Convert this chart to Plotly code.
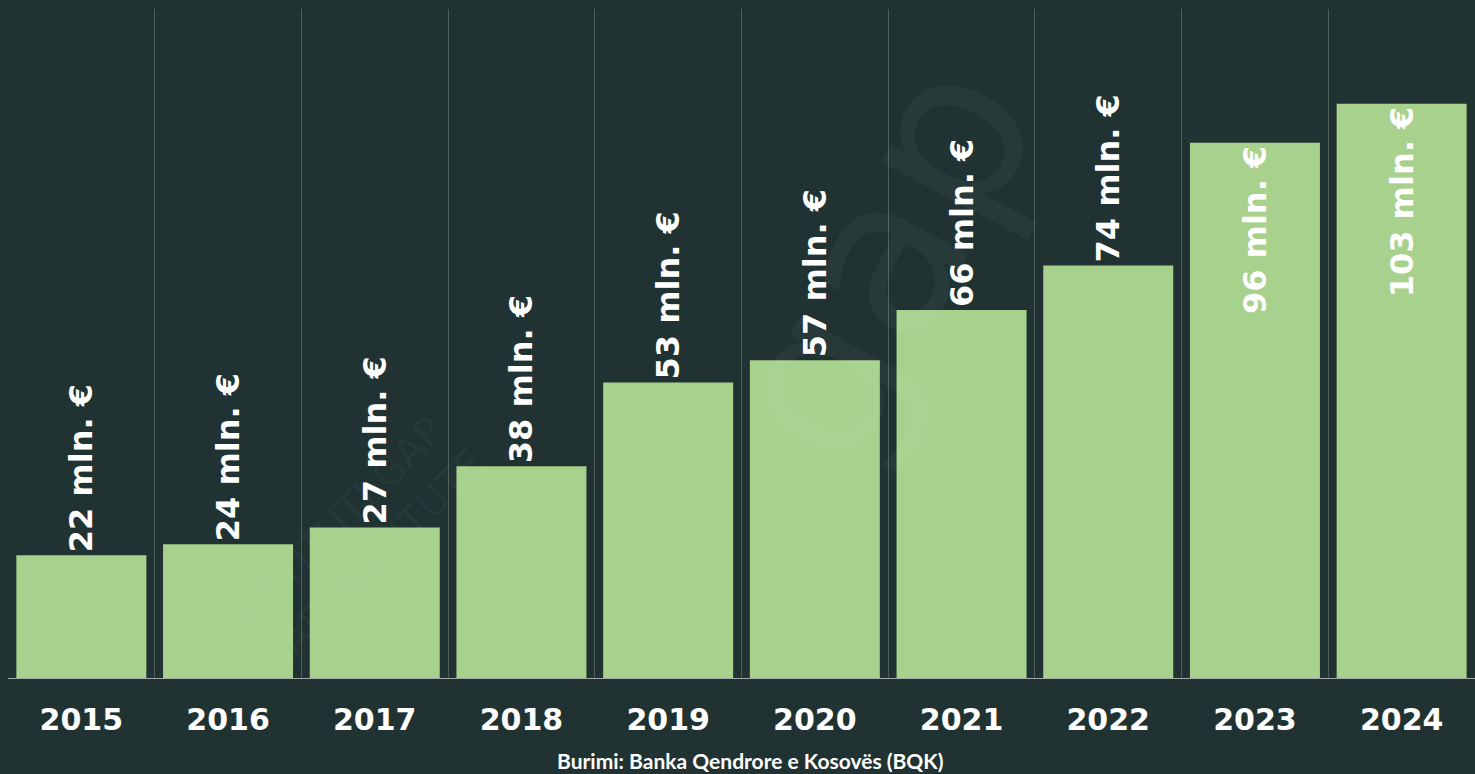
import plotly.graph_objects as go

years = ["2015", "2016", "2017", "2018", "2019", "2020", "2021", "2022", "2023", "2024"]
values = [22, 24, 27, 38, 53, 57, 66, 74, 96, 103]
labels = [f"{v} mln. €" for v in values]
positions = ["outside"] * 8 + ["inside"] * 2
source = "Burimi: Banka Qendrore e Kosovës (BQK)"

BG = "#203332"
BAR = "#a8d18d"
LABEL_FONT = dict(family="DejaVu Sans", size=32, color="white", weight="bold")

fig = go.Figure(go.Bar(
    x=years, y=values, text=labels, textposition=positions,
    textangle=-90, insidetextanchor="end", constraintext="none",
    textfont=LABEL_FONT, insidetextfont=LABEL_FONT, outsidetextfont=LABEL_FONT,
    marker=dict(color=BAR, line=dict(width=0)),
    cliponaxis=False,
))

fig.update_layout(
    width=1475, height=774,
    paper_bgcolor=BG, plot_bgcolor=BG,
    margin=dict(l=8, r=0, t=9, b=96),
    bargap=0.114,
    showlegend=False,
    xaxis=dict(
        type="category", tickson="boundaries", showgrid=True,
        gridcolor="#4d5f5d", gridwidth=1,
        showline=True, linecolor="#a3abaa", linewidth=1,
        ticks="", ticklen=0, ticklabelstandoff=15,
        tickfont=dict(family="DejaVu Sans", size=30, color="white", weight="bold"),
    ),
    yaxis=dict(range=[0, 120], visible=False, showgrid=False, zeroline=False),
    annotations=[
        dict(
            text="gap", xref="paper", yref="paper", x=0.594, y=0.625,
            xanchor="center", yanchor="middle", showarrow=False, textangle=-62,
            font=dict(family="DejaVu Sans", size=220, color="rgba(255,255,255,0.03)"),
        ),
        dict(
            text="INSTITUTI GAP<br>GAP INSTITUTE", xref="paper", yref="paper",
            x=0.235, y=0.2, xanchor="center", yanchor="middle", showarrow=False,
            textangle=-45,
            font=dict(family="DejaVu Sans", size=40, color="rgba(255,255,255,0.035)"),
        ),
        dict(
            text=source, xref="paper", yref="paper", x=0.506, y=0, yshift=-82,
            xanchor="center", yanchor="middle", showarrow=False,
            font=dict(family="Lato", size=21, color="white", weight="bold"),
        ),
    ],
)

fig.write_html(
    "out.html",
    config={"displayModeBar": False},
    post_script="document.body.style.margin='0';document.body.style.background='" + BG + "';",
)
